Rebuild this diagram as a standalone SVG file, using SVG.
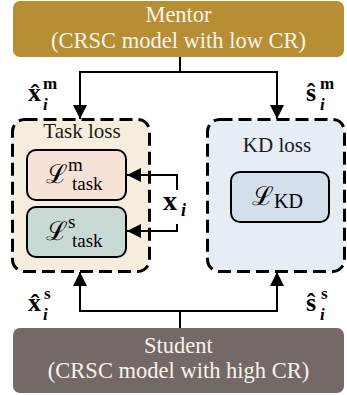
<svg xmlns="http://www.w3.org/2000/svg" width="347" height="395" viewBox="0 0 347 395">
  <defs>
    <marker id="arr" viewBox="0 0 10 10" refX="10" refY="5" markerWidth="7" markerHeight="7" markerUnits="strokeWidth" orient="auto">
      <path d="M0,0 L10,5 L0,10 z" fill="#000"/>
    </marker>
  </defs>
  <style>
    text { font-family: 'Liberation Serif', 'Times New Roman', 'DejaVu Serif', serif; }
    .model { font-size: 22.5px; fill: #F8F4EC; text-anchor: middle; }
    .title { font-size: 21px; fill: #1a1a1a; text-anchor: middle; }
    .group { stroke: #000; stroke-width: 3; stroke-dasharray: 13 6; }
    .term { stroke: #000; stroke-width: 2; }
    .math { fill: #000; }
    .sig { font-weight: bold; }
    .big { font-size: 26px; }
    .sup { font-size: 17px; }
    .sub { font-size: 17px; font-style: italic; }
    .cal { font-family: 'DejaVu Serif', serif; }
    .wire { fill: none; stroke: #000; stroke-width: 2; }
  </style>

  <!-- mentor model -->
  <g id="mentor">
    <rect x="13" y="1" width="331" height="56" rx="7" fill="#B78E33"/>
    <text class="model" x="178.5" y="22">Mentor</text>
    <text class="model" x="178.5" y="48">(CRSC model with low CR)</text>
  </g>

  <!-- student model -->
  <g id="student">
    <rect x="13" y="328" width="331" height="65" rx="7" fill="#736966"/>
    <text class="model" x="178.5" y="353">Student</text>
    <text class="model" x="178.5" y="378">(CRSC model with high CR)</text>
  </g>

  <!-- task loss group -->
  <g id="task-loss">
    <rect class="group" x="12.5" y="119.5" width="137" height="152" rx="12" fill="#F6EEDC"/>
    <text class="title" x="82" y="138">Task loss</text>
  </g>

  <g id="task-loss-m">
    <rect class="term" x="27" y="150" width="99" height="50" rx="9" fill="#F6E2D6"/>
    <text class="math" x="46" y="183"><tspan class="cal" font-size="26">ℒ</tspan><tspan font-size="19" dy="-12">m</tspan><tspan font-size="19" x="72" dy="19">task</tspan></text>
  </g>

  <g id="task-loss-s">
    <rect class="term" x="27" y="207" width="99" height="50" rx="9" fill="#C9DAD4"/>
    <text class="math" x="46" y="240"><tspan class="cal" font-size="26">ℒ</tspan><tspan font-size="19" dy="-12">s</tspan><tspan font-size="19" x="72" dy="19">task</tspan></text>
  </g>

  <!-- KD loss group -->
  <g id="kd-loss">
    <rect class="group" x="207.5" y="119.5" width="137" height="152" rx="12" fill="#E6EDF4"/>
    <text class="title" x="277" y="152">KD loss</text>
  </g>

  <g id="kd-term">
    <rect class="term" x="231" y="172" width="98" height="50" rx="9" fill="#D3DFEA"/>
    <text class="math" x="252" y="205"><tspan class="cal" font-size="26">ℒ</tspan><tspan font-size="20" dy="3">KD</tspan></text>
  </g>

  <!-- connectors -->
  <g id="connectors">
    <path class="wire" d="M180,57 V72 M80,72 H277"/>
    <path class="wire" d="M80,71 V119" marker-end="url(#arr)"/>
    <path class="wire" d="M277,71 V119" marker-end="url(#arr)"/>
    <path class="wire" d="M180,328 V311 M80,311 H277"/>
    <path class="wire" d="M80,312 V272" marker-end="url(#arr)"/>
    <path class="wire" d="M277,312 V272" marker-end="url(#arr)"/>
    <path class="wire" d="M177,190 V175 H127" marker-end="url(#arr)"/>
    <path class="wire" d="M177,224 V231 H127" marker-end="url(#arr)"/>
  </g>

  <!-- signal labels: hatted symbols with super/subscripts -->
  <g id="labels" class="math sig">
    <text id="x-hat-m"><tspan class="big" x="28" y="101">x̂</tspan><tspan class="sup" x="43" y="89">m</tspan><tspan class="sub" x="43" y="110">i</tspan></text>
    <text id="s-hat-m"><tspan class="big" x="306" y="101">ŝ</tspan><tspan class="sup" x="320" y="89">m</tspan><tspan class="sub" x="320" y="110">i</tspan></text>
    <text id="x-hat-s"><tspan class="big" x="28" y="311">x̂</tspan><tspan class="sup" x="44" y="299">s</tspan><tspan class="sub" x="43" y="320">i</tspan></text>
    <text id="s-hat-s"><tspan class="big" x="306" y="311">ŝ</tspan><tspan class="sup" x="321" y="299">s</tspan><tspan class="sub" x="320" y="320">i</tspan></text>
    <text id="x-i"><tspan font-size="28" x="163" y="210">x</tspan><tspan font-size="18" font-style="italic" x="181" y="216">i</tspan></text>
  </g>
</svg>
